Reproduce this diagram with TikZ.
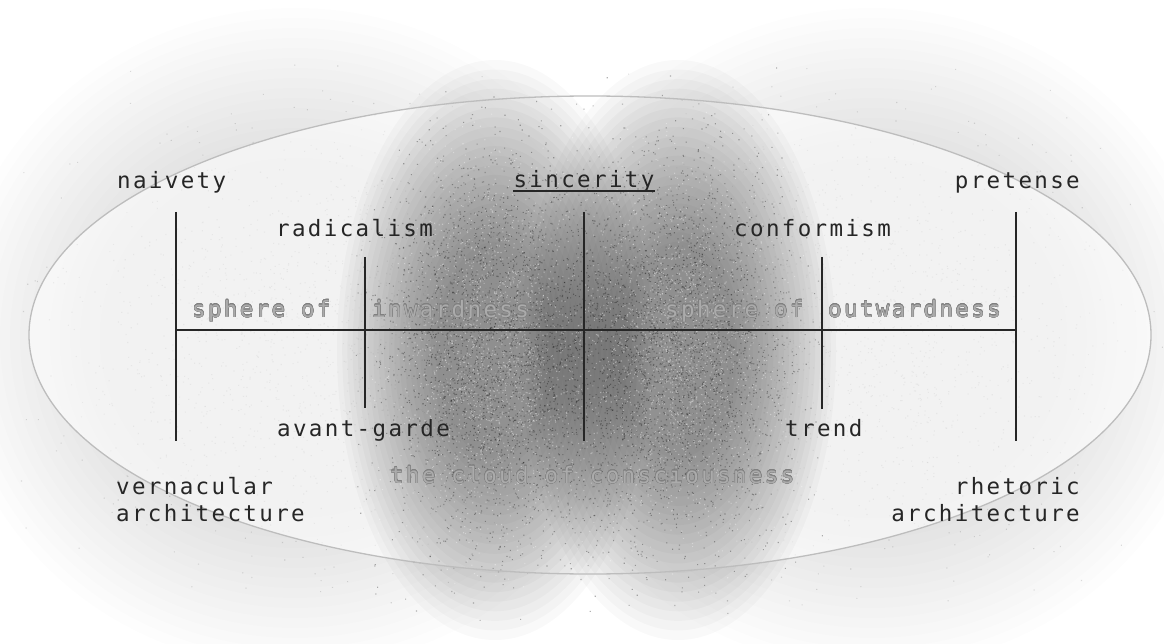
\documentclass[tikz,border=0pt]{standalone}
\usepackage{fontspec}
\usepackage{xcolor}
\usepackage{contour}
\usetikzlibrary{positioning, calc}
\newfontfamily\diagfont{DejaVu Sans Mono}[LetterSpace=10.5]
\definecolor{InkDark}{HTML}{262626}
\definecolor{InkFaint}{HTML}{ABABAB}
\definecolor{InkEdge}{HTML}{808080}
\definecolor{RimGray}{HTML}{BDBDBD}
\contourlength{0.3pt}
\newcommand{\hollow}[1]{\contour{InkEdge}{#1}}
\tikzset{
  term/.style={inner sep=0pt, text=InkDark,
    font=\diagfont\fontsize{22.5pt}{27pt}\selectfont},
  faint/.style={term, text=InkFaint},
  axis/.style={draw=InkDark, line width=1.6pt},
  rim/.style={draw=RimGray, line width=1.3pt},
  haze/.style={fill=black, fill opacity=0.007},
  veil/.style={fill=white, fill opacity=0.6},
  core/.style={fill=black, fill opacity=0.022},
  speck/.style={fill=black, fill opacity=0.3},
  grit/.style={fill=white, fill opacity=0.35},
}

\begin{document}
\begin{tikzpicture}[x=1pt, y=-1pt]
  \fill[white] (0,0) rectangle (1164,644);
  \useasboundingbox (0,0) rectangle (1164,644);
  \pgfmathsetseed{4711}

  % clouds, built up ring by ring
  \coordinate (lhaze) at (295,338);
  \coordinate (rhaze) at (872,338);
  \coordinate (lcore) at (495,350);
  \coordinate (rcore) at (678,350);
  \foreach \k in {0,...,15} {
    \fill[haze] (lhaze) ellipse [x radius={345-10*\k}, y radius={330-10*\k}];
    \fill[haze] (rhaze) ellipse [x radius={345-10*\k}, y radius={330-10*\k}];
  }
  % grain in the outer haze
  \foreach \cx in {295,872} {
    \foreach \rep in {1,2} {
      \fill[speck, fill opacity=0.13] \foreach \n in {1,...,700} {
        ({\cx+105*(rand+rand+rand)}, {338+100*(rand+rand+rand)}) rectangle ++(1.1,1.1)
      };
    }
  }
  \fill[veil] (590,335) ellipse [x radius=561, y radius=239];
  \foreach \k in {0,...,19} {
    \fill[core] (lcore) ellipse [x radius={158*(1-0.033*\k)}, y radius={290*(1-0.033*\k)}];
    \fill[core] (rcore) ellipse [x radius={158*(1-0.033*\k)}, y radius={290*(1-0.033*\k)}];
  }
  % grain in the dense cloud
  \foreach \cx in {495,678} {
    \foreach \rep in {1,2,3} {
      \fill[speck] \foreach \n in {1,...,1000} {
        ({\cx+54*(rand+rand+rand)}, {350+96*(rand+rand+rand)}) rectangle ++(1.1,1.1)
      };
    }
    \foreach \rep in {1,2} {
      \fill[grit] \foreach \n in {1,...,1000} {
        ({\cx+46*(rand+rand+rand)}, {350+86*(rand+rand+rand)}) rectangle ++(1.1,1.1)
      };
    }
  }

  \draw[rim] (590,335) ellipse [x radius=561, y radius=239];

  % axes
  \coordinate (hl) at (176,330);
  \coordinate (hr) at (1016,330);
  \coordinate (lt) at (176,212);
  \coordinate (lb) at (176,441);
  \coordinate (ct) at (584,212);
  \coordinate (cb) at (584,441);
  \coordinate (rt) at (1016,212);
  \coordinate (rb) at (1016,441);
  \coordinate (it) at (365,257);
  \coordinate (ib) at (365,408);
  \coordinate (ot) at (822,257);
  \coordinate (ob) at (822,409);
  \draw[axis] (hl) -- (hr);
  \draw[axis] (lt) -- (lb);
  \draw[axis] (ct) -- (cb);
  \draw[axis] (rt) -- (rb);
  \draw[axis] (it) -- (ib);
  \draw[axis] (ot) -- (ob);

  % labels
  \node[term, anchor=base west] (naive) at (117,189) {naivety};
  \node[term, anchor=base] (sincere) at (584,188) {sincerity};
  \draw[draw=InkDark, line width=1.2pt]
    ([yshift=-3pt]sincere.base west) -- ([yshift=-3pt]sincere.base east);
  \node[term, anchor=base east] (pretend) at (1080,189) {pretense};
  \node[term, anchor=base west] (radical) at (276,237) {radicalism};
  \node[term, anchor=base west] (conform) at (734,237) {conformism};
  \node[faint, anchor=base west] (sphin) at (192,317) {\hollow{sphere of}};
  \node[faint, anchor=base west] (inward) at (372,317) {\hollow{inwardness}};
  \node[faint, anchor=base west] (sphout) at (665,317) {\hollow{sphere of}};
  \node[faint, anchor=base west] (outward) at (828,317) {\hollow{outwardness}};
  \node[term, anchor=base west] (avant) at (277,436) {avant-garde};
  \node[term, anchor=base west] (trend) at (785,436) {trend};
  \node[faint, anchor=base west] (cloud) at (390,483) {\hollow{the cloud of consciousness}};
  \node[term, anchor=base west, align=left] (vern) at (116,521) {vernacular\\architecture};
  \node[term, anchor=base east, align=right] (rhet) at (1080,521) {rhetoric\\architecture};
\end{tikzpicture}
\end{document}
